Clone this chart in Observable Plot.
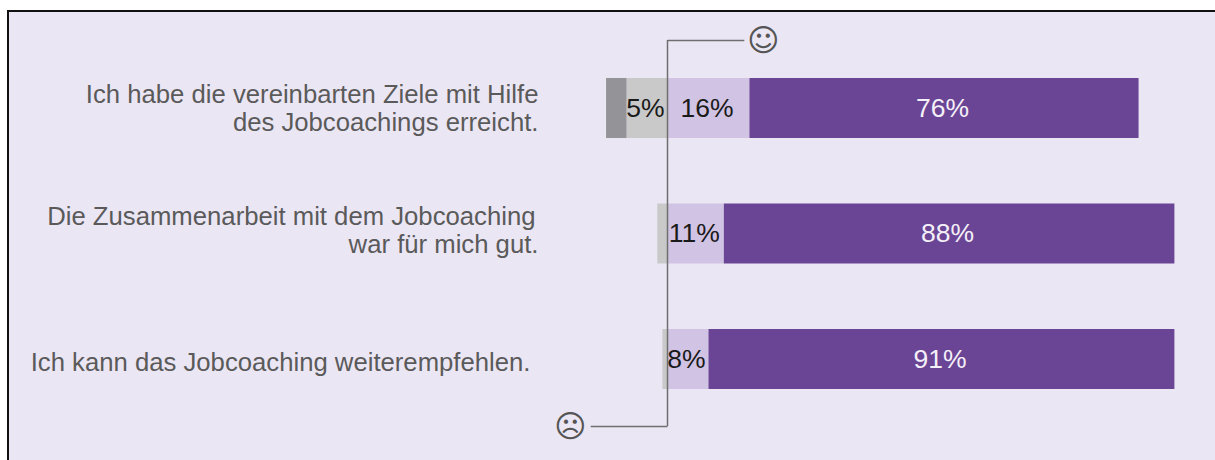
<!DOCTYPE html>
<html>
<head>
<meta charset="utf-8">
<script src="https://cdn.jsdelivr.net/npm/d3@7"></script>
<script src="https://cdn.jsdelivr.net/npm/@observablehq/plot@0.6"></script>
<style>
html,body{margin:0;padding:0;background:#fff;overflow:hidden}
#panel{position:absolute;left:7px;top:10px;width:1215px;height:460px;background:#ebe6f4;border-top:2px solid #111;border-left:2px solid #111;box-sizing:border-box}
#chart{position:absolute;left:0;top:0}
#chart svg{background:transparent;display:block}
</style>
</head>
<body>
<div id="panel"></div>
<div id="chart"></div>
<script>
const rows = ["Ziele", "Zusammenarbeit", "Weiterempfehlen"];

const series = ["Eher nein", "Nein", "Eher ja", "Ja"];
const colours = ["#c9c9c9", "#949498", "#d1c3e3", "#6b4595"];
const inks = ["#1a1a1a", "#1a1a1a", "#1a1a1a", "#f4f0f8"];

const eherNein = [-8, -2, -1];
const nein = [-4, 0, 0];
const eherJa = [16, 11, 8];
const ja = [76, 88, 91];
const values = [eherNein, nein, eherJa, ja];

const eherNeinLabels = ["5%", "", ""];
const neinLabels = ["", "", ""];
const eherJaLabels = ["16%", "11%", "8%"];
const jaLabels = ["76%", "88%", "91%"];
const labels = [eherNeinLabels, neinLabels, eherJaLabels, jaLabels];

const table = series.flatMap((s, i) =>
  rows.map((row, j) => ({row, series: s, value: values[i][j], label: labels[i][j], fill: colours[i], ink: inks[i]}))
);

const questionLines = [
  {row: rows[0], text: "Ich habe die vereinbarten Ziele mit Hilfe", dx: 0, dy: -14},
  {row: rows[0], text: "des Jobcoachings erreicht.", dx: 0, dy: 14},
  {row: rows[1], text: "Die Zusammenarbeit mit dem Jobcoaching", dx: -3, dy: -17},
  {row: rows[1], text: "war für mich gut.", dx: 0, dy: 11},
  {row: rows[2], text: "Ich kann das Jobcoaching weiterempfehlen.", dx: -8, dy: 3}
];
const questionAnchor = -25.3;
const bracketTop = 15;
const bracketBottom = -15;

const font = "'Liberation Sans', Arial, sans-serif";

const plot = Plot.plot({
  width: 1215,
  height: 460,
  marginLeft: 0,
  marginRight: 0,
  marginTop: 78,
  marginBottom: 71,
  style: {background: "transparent", fontFamily: font},
  x: {domain: [-130.37, 106.93], range: [0, 1215], axis: null},
  y: {domain: rows, axis: null, round: false, paddingOuter: 0, paddingInner: 0.522, align: 0},
  color: {type: "identity"},
  marks: [
    Plot.barX(table, {x: "value", y: "row", z: "series", fill: "fill"}),
    Plot.text(table, Plot.stackX({x: "value", y: "row", z: "series", text: "label", fill: "ink", dx: -2, fontSize: 26.5, fontFamily: font})),
    Plot.ruleX([0], {dx: -0.5, stroke: "#6f6f6f", strokeWidth: 1.5, insetTop: -38, insetBottom: -37}),
    Plot.ruleY([rows[0]], {y: d => d, x1: 0, x2: bracketTop, dy: -68, stroke: "#6f6f6f", strokeWidth: 1.5}),
    Plot.ruleY([rows[2]], {y: d => d, x1: 0, x2: bracketBottom, dy: 67, stroke: "#6f6f6f", strokeWidth: 1.5}),
    Plot.text(["\u263A"], {x: 18.6, y: () => rows[0], text: d => d, dy: -67, fontSize: 31, fill: "#555", fontFamily: "'DejaVu Sans'"}),
    Plot.text(["\u2639"], {x: -19.1, y: () => rows[2], text: d => d, dy: 68, fontSize: 31, fill: "#555", fontFamily: "'DejaVu Sans'"}),
    ...questionLines.map(line =>
      Plot.text([line], {x: () => questionAnchor, y: "row", text: "text", dx: line.dx, dy: line.dy, textAnchor: "end", fontSize: 25.7, fill: "#5a5a5a", fontFamily: font})
    )
  ]
});
document.getElementById("chart").appendChild(plot);
</script>
</body>
</html>
